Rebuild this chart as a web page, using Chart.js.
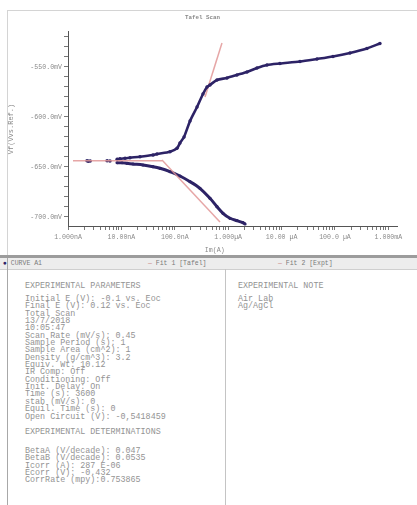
<!DOCTYPE html>
<html><head><meta charset="utf-8">
<script src="https://cdn.jsdelivr.net/npm/chart.js@4/dist/chart.umd.min.js"></script>
<style>
html,body{margin:0;padding:0;background:#fff;width:417px;height:505px;overflow:hidden;position:relative;font-family:"Liberation Mono",monospace;}
#frame{position:absolute;left:7px;top:10px;width:410px;height:245px;border-top:1px solid #d4d4d4;border-left:1px solid #d4d4d4;box-sizing:border-box;}
#c{display:block}
#bar{position:absolute;left:0;top:255px;width:417px;height:3px;background:#9c9c9c}
#legend{position:absolute;left:0;top:258px;width:417px;height:11px;background:#ededed;border-bottom:1px solid #cfcfcf;font-size:6.5px;line-height:11px;color:#7a7a7a;white-space:pre}
#legend span{position:absolute;top:0}
.dot{color:#2d2366}
.fit{color:#c88}
#lb{position:absolute;left:7px;top:258px;width:1px;height:247px;background:#a8a8a8}
#sep{position:absolute;left:225px;top:269px;width:1px;height:236px;background:#c4c4c4}
.txt{position:absolute;font-size:8.4px;line-height:7.35px;color:#939393;white-space:pre}
</style>
</head><body>
<div id="frame"><canvas id="c" width="409" height="244"></canvas></div>
<div id="bar"></div>
<div id="legend"><span style="left:3px"><span class="dot" style="position:static">●</span> CURVE A1</span><span style="left:148px"><span class="fit" style="position:static">—</span> Fit 1 [Tafel]</span><span style="left:278px"><span class="fit" style="position:static">—</span> Fit 2 [Expt]</span></div>
<div id="lb"></div>
<div id="sep"></div>
<div class="txt" style="left:25px;top:283px">EXPERIMENTAL PARAMETERS</div>
<div class="txt" style="left:25px;top:296px">Initial E (V): -0.1 vs. Eoc
Final E (V): 0.12 vs. Eoc
Total Scan
13/7/2018
10:05:47
Scan Rate (mV/s): 0.45
Sample Period (s): 1
Sample Area (cm^2): 1
Density (g/cm^3): 3.2
Equiv. Wt: 10.12
IR Comp: Off
Conditioning: Off
Init. Delay: On
Time (s): 3600
stab (mV/s): 0
Equil. Time (s): 0
Open Circuit (V): -0,5418459</div>
<div class="txt" style="left:25px;top:429px">EXPERIMENTAL DETERMINATIONS</div>
<div class="txt" style="left:25px;top:448px">BetaA (V/decade): 0.047
BetaB (V/decade): 0.0535
Icorr (A): 287 E-06
Ecorr (V): -0.432
CorrRate (mpy):0.753865</div>
<div class="txt" style="left:238px;top:283px">EXPERIMENTAL NOTE</div>
<div class="txt" style="left:238px;top:296px">Air Lab
Ag/AgCl</div>
<script>
// ---- data ----
const xTickLabels = ["1.000nA","10.00nA","100.0nA","1.000µA","10.00 µA","100.0 µA","1.000mA"];
const yTickValues = [-700,-650,-600,-550];
const yTickLabels = ["-700.0mV","-650.0mV","-600.0mV","-550.0mV"];

// cathodic branch (scan start, high |I| at low E, toward Ecorr)
const cathodicI = [2.07e-6,1.89e-6,1.46e-6,1.08e-6,8.0e-7,6.17e-7,4.56e-7,2.96e-7,1.93e-7,1.25e-7,8.13e-8,5.28e-8,3.91e-8,2.54e-8,1.65e-8,1.27e-8,1.03e-8,8.3e-9];
const cathodicE = [-707,-705.7,-703.7,-701.3,-696.3,-689.7,-681.3,-671.3,-664.7,-659,-654.7,-651.3,-649.7,-648,-647,-646.3,-645.7,-645.7];
// scattered points near Ecorr
const nearI = [6.1e-9,5.4e-9,2.6e-9,2.4e-9,2.27e-9];
const nearE = [-644,-643.7,-644,-644.3,-643.7];
// anodic branch
const anodicI = [8.3e-9,9.4e-9,1.17e-8,1.45e-8,2.23e-8,3.91e-8,4.64e-8,8.13e-8,1.10e-7,1.25e-7,1.49e-7,1.93e-7,2.61e-7,3.37e-7,4.01e-7,4.56e-7,6.17e-7,9.5e-7,1.46e-6,2.25e-6,3.46e-6,5.33e-6,9.3e-6,2.21e-5,4.60e-5,9.17e-5,1.91e-4,3.97e-4,6.96e-4];
const anodicE = [-642.3,-641.7,-641.3,-640.7,-639.7,-638,-637,-634.7,-631.3,-626,-620,-604,-590,-577,-570,-568,-563,-561,-558,-555,-551,-548,-546.5,-544.5,-542,-539.5,-536,-531.5,-526.5];
// Tafel fit lines
const ecorrFitI = [1.24e-9,5.75e-8];
const ecorrFitE = [-643.7,-643.7];
const anodicFitI = [3.68e-7,7.65e-7];
const anodicFitE = [-580,-526];
const cathodicFitI = [5.75e-8,7.02e-7];
const cathodicFitE = [-643,-705];

const pts = (xs,ys)=>xs.map((x,i)=>({x:x,y:ys[i]}));
const NAVY = '#2d2366', PINK = 'rgba(226,150,150,0.85)';
const F = '"Liberation Mono", monospace';

const xTickVals = [];
for (let e=-9;e<=-4;e++) for (let m=1;m<=9;m++) xTickVals.push(m*Math.pow(10,e));
xTickVals.push(1e-3);
const yTickVals = [];
for (let v=-700; v<=-520; v+=10) yTickVals.push(v);

new Chart(document.getElementById('c'), {
  type: 'scatter',
  data: { datasets: [
    {data: pts(ecorrFitI,ecorrFitE), showLine:true, borderColor:PINK, borderWidth:1.5, pointRadius:0},
    {data: pts(cathodicFitI,cathodicFitE), showLine:true, borderColor:PINK, borderWidth:1.5, pointRadius:0},
    {data: pts(cathodicI,cathodicE), showLine:true, borderColor:NAVY, borderWidth:3, pointRadius:1.6, pointBackgroundColor:NAVY, pointBorderWidth:0, tension:0.3},
    {data: pts(nearI,nearE), showLine:false, pointRadius:1.8, pointBackgroundColor:NAVY, pointBorderWidth:0},
    {data: pts(anodicI,anodicE), showLine:true, borderColor:NAVY, borderWidth:2.6, pointRadius:1.7, pointBackgroundColor:NAVY, pointBorderWidth:0, tension:0.25},
    {data: pts(anodicFitI,anodicFitE), showLine:true, borderColor:PINK, borderWidth:1.5, pointRadius:0}
  ]},
  options: {
    responsive:false, animation:false, devicePixelRatio:1,
    layout:{padding:{left:0,right:20,top:0,bottom:0}},
    plugins:{
      legend:{display:false}, tooltip:{enabled:false},
      title:{display:true, text:'Tafel Scan', color:'#888', font:{family:F,size:5.8,lineHeight:1.2}, padding:{top:2.7,bottom:11.3}}
    },
    scales:{
      x:{type:'logarithmic', min:1e-9, max:1.45e-3,
        afterBuildTicks:(s)=>{s.ticks = xTickVals.map(v=>({value:v}));},
        afterFit:(s)=>{s.height=29;},
        grid:{drawOnChartArea:false, drawTicks:true, tickLength:4, color:'#777'},
        border:{display:true,color:'#555',width:1},
        ticks:{autoSkip:false, maxRotation:0, padding:3, color:'#8a8a8a', font:{family:F,size:6.6},
          callback:(v)=>{const l=Math.log10(v); const r=Math.round(l); return Math.abs(l-r)<1e-6 ? xTickLabels[r+9] : '';}},
        title:{display:true, text:'Im(A)\u00a0\u00a0\u00a0\u00a0\u00a0\u00a0\u00a0\u00a0\u00a0', color:'#888', font:{family:F,size:6.6,lineHeight:1.2}, padding:{top:0,bottom:1}}
      },
      y:{type:'linear', min:-709, max:-515,
        afterBuildTicks:(s)=>{s.ticks = yTickVals.map(v=>({value:v}));},
        afterFit:(s)=>{s.width=60;},
        grid:{drawOnChartArea:false, drawTicks:true, tickLength:4, color:'#777'},
        border:{display:true,color:'#555',width:1},
        ticks:{autoSkip:false, padding:2, color:'#8a8a8a', font:{family:F,size:6.6},
          callback:(v)=>{const i=yTickValues.indexOf(v); return i>=0 ? yTickLabels[i] : '';}},
        title:{display:true, text:'Vf(Vvs.Ref.)', color:'#888', font:{family:F,size:7,lineHeight:1}, padding:{top:0,bottom:0}}
      }
    }
  }
});
</script>
</body></html>
